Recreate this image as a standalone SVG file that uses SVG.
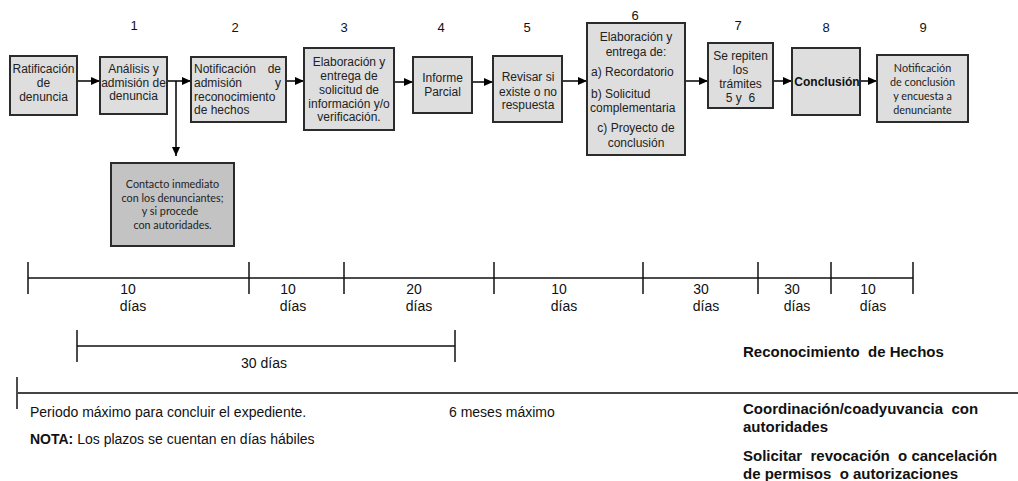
<svg xmlns="http://www.w3.org/2000/svg" width="1018" height="481" viewBox="0 0 1018 481">
<defs>
<marker id="ah" markerWidth="9" markerHeight="8" refX="9" refY="4" orient="auto" markerUnits="userSpaceOnUse">
<path d="M0,0 L9,4 L0,8 Z" fill="#000"/>
</marker>
<style>
.box{fill:#dedede;stroke:#2b2b2b;stroke-width:2}
.box2{fill:#c3c3c3;stroke:#2b2b2b;stroke-width:2}
.t{font-family:"Liberation Sans",Arial,sans-serif;font-size:12px;fill:#222;text-anchor:middle}
.tl{font-family:"Liberation Sans",Arial,sans-serif;font-size:12px;fill:#222}
.c{font-family:Lato,"Open Sans",sans-serif;font-size:10.8px;fill:#222;text-anchor:middle}
.n{font-family:"Liberation Sans",Arial,sans-serif;font-size:13px;fill:#111;text-anchor:middle}
.d{font-family:"Liberation Sans",Arial,sans-serif;font-size:14px;fill:#111;text-anchor:middle}
.b{font-family:"Liberation Sans",Arial,sans-serif;font-size:15px;font-weight:bold;fill:#111}
.s{font-family:"Liberation Sans",Arial,sans-serif;font-size:14px;fill:#111}
.ln{stroke:#111;stroke-width:1.5;fill:none}
.conn{stroke:#000;stroke-width:1.5;fill:none}
</style>
</defs>
<rect width="1018" height="481" fill="#fff"/>

<g id="step-numbers">
<text class="n" x="134" y="30">1</text>
<text class="n" x="235" y="32">2</text>
<text class="n" x="344" y="32">3</text>
<text class="n" x="441" y="32">4</text>
<text class="n" x="527" y="32">5</text>
<text class="n" x="635" y="20">6</text>
<text class="n" x="738" y="30">7</text>
<text class="n" x="826" y="32">8</text>
<text class="n" x="923" y="32">9</text>
</g>

<g id="connectors">
<line class="conn" x1="77" y1="81" x2="100" y2="81" marker-end="url(#ah)"/>
<line class="conn" x1="167" y1="81" x2="191" y2="81" marker-end="url(#ah)"/>
<line class="conn" x1="176" y1="81" x2="176" y2="156" marker-end="url(#ah)"/>
<line class="conn" x1="286" y1="81" x2="304" y2="81" marker-end="url(#ah)"/>
<line class="conn" x1="394" y1="82" x2="413" y2="82" marker-end="url(#ah)"/>
<line class="conn" x1="472" y1="82" x2="493" y2="82" marker-end="url(#ah)"/>
<line class="conn" x1="562" y1="81" x2="587" y2="81" marker-end="url(#ah)"/>
<line class="conn" x1="685" y1="81" x2="708" y2="81" marker-end="url(#ah)"/>
<line class="conn" x1="773" y1="81" x2="792" y2="81" marker-end="url(#ah)"/>
<line class="conn" x1="860" y1="81" x2="877" y2="81" marker-end="url(#ah)"/>
</g>

<g id="n-ratificacion">
<rect class="box" x="10" y="56" width="67" height="59"/>
<text class="t" x="43.5" y="73">Ratificación</text>
<text class="t" x="43.5" y="87">de</text>
<text class="t" x="43.5" y="101">denuncia</text>
</g>

<g id="n-analisis">
<rect class="box" x="100" y="57" width="67" height="57"/>
<text class="t" x="133.5" y="73">Análisis y</text>
<text class="t" x="133.5" y="87">admisión de</text>
<text class="t" x="133.5" y="100">denuncia</text>
</g>

<g id="n-notificacion">
<rect class="box" x="191" y="57" width="95" height="65"/>
<text class="tl" x="194" y="73">Notificación</text>
<text class="tl" x="281" y="73" text-anchor="end">de</text>
<text class="tl" x="194" y="87">admisión</text>
<text class="tl" x="281" y="87" text-anchor="end">y</text>
<text class="tl" x="194" y="101">reconocimiento</text>
<text class="tl" x="194" y="114">de hechos</text>
</g>

<g id="n-elaboracion">
<rect class="box" x="304" y="48" width="90" height="82"/>
<text class="t" x="349" y="66">Elaboración y</text>
<text class="t" x="349" y="80">entrega de</text>
<text class="t" x="349" y="94">solicitud de</text>
<text class="t" x="349" y="108">información y/o</text>
<text class="t" x="349" y="121">verificación.</text>
</g>

<g id="n-informe">
<rect class="box" x="413" y="57" width="59" height="56"/>
<text class="t" x="442.5" y="82">Informe</text>
<text class="t" x="442.5" y="96">Parcial</text>
</g>

<g id="n-revisar">
<rect class="box" x="493" y="56" width="69" height="66"/>
<text class="t" x="528" y="81">Revisar si</text>
<text class="t" x="528" y="96">existe o no</text>
<text class="t" x="528" y="109">respuesta</text>
</g>

<g id="n-elaboracion-entrega">
<rect class="box" x="587" y="23" width="98" height="132"/>
<text class="t" x="636" y="41">Elaboración y</text>
<text class="t" x="636" y="56">entrega de:</text>
<text class="tl" x="591" y="76">a) Recordatorio</text>
<text class="tl" x="591" y="98">b) Solicitud</text>
<text class="tl" x="590" y="112">complementaria</text>
<text class="t" x="636" y="132">c) Proyecto de</text>
<text class="t" x="636" y="147">conclusión</text>
</g>

<g id="n-repiten">
<rect class="box" x="708" y="43" width="65" height="65"/>
<text class="t" x="740.5" y="60">Se repiten</text>
<text class="t" x="740.5" y="74">los</text>
<text class="t" x="740.5" y="88">trámites</text>
<text class="t" x="740.5" y="102" xml:space="preserve">5 y  6</text>
</g>

<g id="n-conclusion">
<rect class="box" x="792" y="48" width="68" height="67"/>
<text class="t" x="827" y="86" style="font-weight:bold;font-size:12px;fill:#111">Conclusión</text>
</g>

<g id="n-notificacion-conclusion">
<rect class="box" x="877" y="55" width="91" height="67"/>
<text class="c" x="922.5" y="72">Notificación</text>
<text class="c" x="922.5" y="86">de conclusión</text>
<text class="c" x="922.5" y="100">y encuesta a</text>
<text class="c" x="922.5" y="114">denunciante</text>
</g>

<g id="n-contacto">
<rect class="box2" x="111" y="163" width="123" height="83"/>
<text class="c" x="172.5" y="188">Contacto inmediato</text>
<text class="c" x="172.5" y="202">con los denunciantes;</text>
<text class="c" x="170" y="215">y si procede</text>
<text class="c" x="172.5" y="229">con autoridades.</text>
</g>

<g id="timeline">
<line class="ln" x1="28" y1="278" x2="913" y2="278"/>
<line class="ln" x1="28" y1="262" x2="28" y2="294"/>
<line class="ln" x1="249" y1="262" x2="249" y2="294"/>
<line class="ln" x1="344" y1="262" x2="344" y2="294"/>
<line class="ln" x1="494" y1="262" x2="494" y2="294"/>
<line class="ln" x1="643" y1="262" x2="643" y2="294"/>
<line class="ln" x1="758" y1="262" x2="758" y2="294"/>
<line class="ln" x1="831" y1="262" x2="831" y2="294"/>
<line class="ln" x1="913" y1="262" x2="913" y2="294"/>
<text class="d" x="128" y="294">10</text><text class="d" x="133" y="311">días</text>
<text class="d" x="288" y="294">10</text><text class="d" x="293" y="311">días</text>
<text class="d" x="414" y="294">20</text><text class="d" x="419" y="311">días</text>
<text class="d" x="559" y="294">10</text><text class="d" x="564" y="311">días</text>
<text class="d" x="701" y="294">30</text><text class="d" x="706" y="311">días</text>
<text class="d" x="792" y="294">30</text><text class="d" x="797" y="311">días</text>
<text class="d" x="868" y="294">10</text><text class="d" x="873" y="311">días</text>

<line class="ln" x1="77" y1="346" x2="455" y2="346"/>
<line class="ln" x1="77" y1="330" x2="77" y2="362"/>
<line class="ln" x1="455" y1="330" x2="455" y2="362"/>
<text class="d" x="264" y="368">30 días</text>

<line x1="18" y1="393" x2="1018" y2="393" stroke="#444" stroke-width="2"/>
<line x1="17" y1="377" x2="17" y2="409" stroke="#111" stroke-width="1.5"/>
</g>

<g id="notes">
<text class="s" x="30" y="417">Periodo máximo  para concluir el expediente.</text>
<text class="s" x="449" y="417">6 meses máximo</text>
<text class="s" x="30" y="444"><tspan font-weight="bold">NOTA:</tspan> Los plazos se cuentan en días hábiles</text>
<text class="b" x="743" y="357" xml:space="preserve">Reconocimiento  de Hechos</text>
<text class="b" x="743" y="414" xml:space="preserve">Coordinación/coadyuvancia  con</text>
<text class="b" x="743" y="432">autoridades</text>
<text class="b" x="743" y="461" xml:space="preserve">Solicitar  revocación  o cancelación</text>
<text class="b" x="743" y="479" xml:space="preserve">de permisos  o autorizaciones</text>
</g>
</svg>
